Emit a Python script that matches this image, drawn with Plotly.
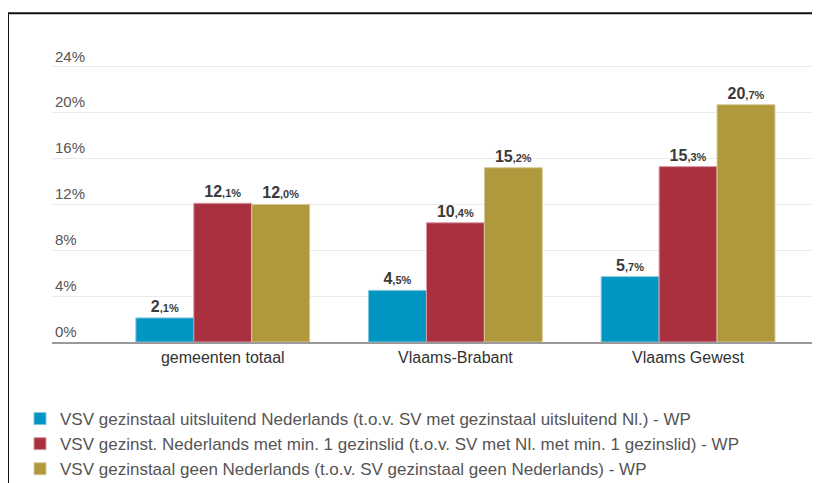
import plotly.graph_objects as go

categories = ["gemeenten totaal", "Vlaams-Brabant", "Vlaams Gewest"]
series_names = [
    "VSV gezinstaal uitsluitend Nederlands (t.o.v. SV met gezinstaal uitsluitend Nl.) - WP",
    "VSV gezinst. Nederlands met min. 1 gezinslid (t.o.v. SV met Nl. met min. 1 gezinslid) - WP",
    "VSV gezinstaal geen Nederlands (t.o.v. SV gezinstaal geen Nederlands) - WP",
]
vals_uitsluitend = [2.1, 4.5, 5.7]
vals_min1 = [12.1, 10.4, 15.3]
vals_geen = [12.0, 15.2, 20.7]
colors = ["#0096c1", "#a8303f", "#b0983c"]
line_colors = ["#7fc6dd", "#d99aa2", "#d8c89a"]
tick_vals = [0, 4, 8, 12, 16, 20, 24]
tick_text = ["0%", "4%", "8%", "12%", "16%", "20%", "24%"]


def fmt(v):
    whole, dec = f"{v:.1f}".split(".")
    return f"<b>{whole}</b><b><span style='font-size:11px'>,{dec}%</span></b>"


fig = go.Figure()
for i, (name, vals) in enumerate(zip(series_names, [vals_uitsluitend, vals_min1, vals_geen])):
    fig.add_trace(go.Bar(
        x=categories, y=vals, name=name,
        marker=dict(color=colors[i], line=dict(color=line_colors[i], width=1)),
        text=[fmt(v) for v in vals], textposition="outside", cliponaxis=False,
        textfont=dict(family="Liberation Sans, Arial", size=16, color="#3a3a3a"),
        legendgroup=f"g{i}",
    ))

# page is offset by the 8px body margin
OFF = 8
W, H = 820 - OFF, 483 - OFF
YMAX = 28
L, R, B = 52 - OFF, 0, 483 - 342
T = (342 - OFF) - YMAX * (275 / 24)
pw, ph = W - L - R, H - T - B


def px(x):
    return (x - OFF - L) / pw


def py(y):
    return (H - B - (y - OFF)) / ph


fig.update_layout(
    width=W, height=H,
    margin=dict(l=L, r=R, t=T, b=B, autoexpand=False),
    paper_bgcolor="white", plot_bgcolor="white",
    barmode="group", bargap=0.253, bargroupgap=0,
    font=dict(family="Liberation Sans, Arial", color="#444"),
    xaxis=dict(
        range=[-0.734, 2.567], showgrid=False, showline=True, linecolor="#9a9a9a", linewidth=2,
        ticks="", tickfont=dict(size=16, color="#333"), fixedrange=True, automargin=False,
    ),
    yaxis=dict(
        range=[0, YMAX], tickvals=tick_vals, ticktext=tick_text, automargin=False,
        ticklabelposition="inside top", showgrid=True, gridcolor="#ebebeb", gridwidth=1,
        zeroline=False, tickfont=dict(size=15, color="#555"),
    ),
    showlegend=True,
    legend=dict(
        orientation="v", x=px(20), y=py(401), xanchor="left", yanchor="top",
        font=dict(size=17, color="#555"), tracegroupgap=6.5, traceorder="normal",
        bgcolor="rgba(0,0,0,0)",
    ),
    shapes=[
        dict(type="line", xref="paper", yref="paper", x0=px(7), x1=px(830), y0=py(13.5), y1=py(13.5),
             line=dict(color="#111", width=2)),
        dict(type="line", xref="paper", yref="paper", x0=px(8), x1=px(8), y0=py(13), y1=py(490),
             line=dict(color="#111", width=2)),
    ],
)

fig.write_html("out.html")
